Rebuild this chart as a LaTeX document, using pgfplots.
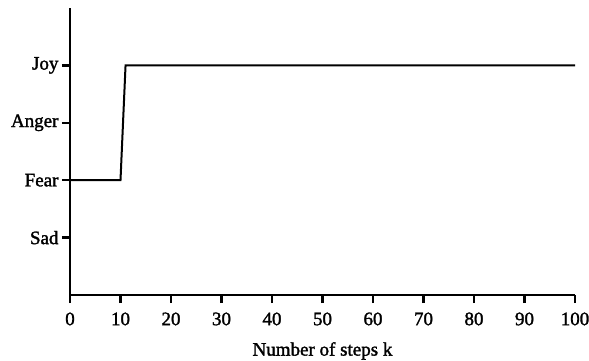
\documentclass[border=0pt]{standalone}
\usepackage{pgfplots}
\pgfplotsset{compat=1.18}
\usepackage{fontspec}
\setmainfont{Liberation Serif}[FakeBold=1.6]
\begin{document}
\begin{tikzpicture}
\useasboundingbox (-70pt,-65pt) rectangle (519pt,295pt);
\begin{axis}[
  at={(0,0)}, anchor=south west,
  scale only axis,
  width=505pt, height=287pt,
  xmin=0, xmax=100, ymin=0, ymax=5,
  axis x line*=bottom, axis y line*=left,
  axis line style={line width=2.4pt, -},
  xtick={0,10,...,100},
  ytick={1,2,3,4},
  yticklabels={Sad,Fear,Anger,Joy},
  tick align=outside,
  major tick length=8pt,
  tick style={line width=2.4pt, black},
  /pgf/number format/assume math mode=true,
  ticklabel style={font=\fontsize{19}{22}\selectfont},
  xticklabel style={yshift=-6pt},
  yticklabel style={xshift=0pt},
  xlabel={Number of steps k},
  xlabel style={font=\fontsize{19}{22}\selectfont, yshift=-10pt},
]
\addplot[black, line width=2pt, line join=miter] coordinates {(0,2) (10,2) (11,4) (100,4)};
\end{axis}
\end{tikzpicture}
\end{document}
